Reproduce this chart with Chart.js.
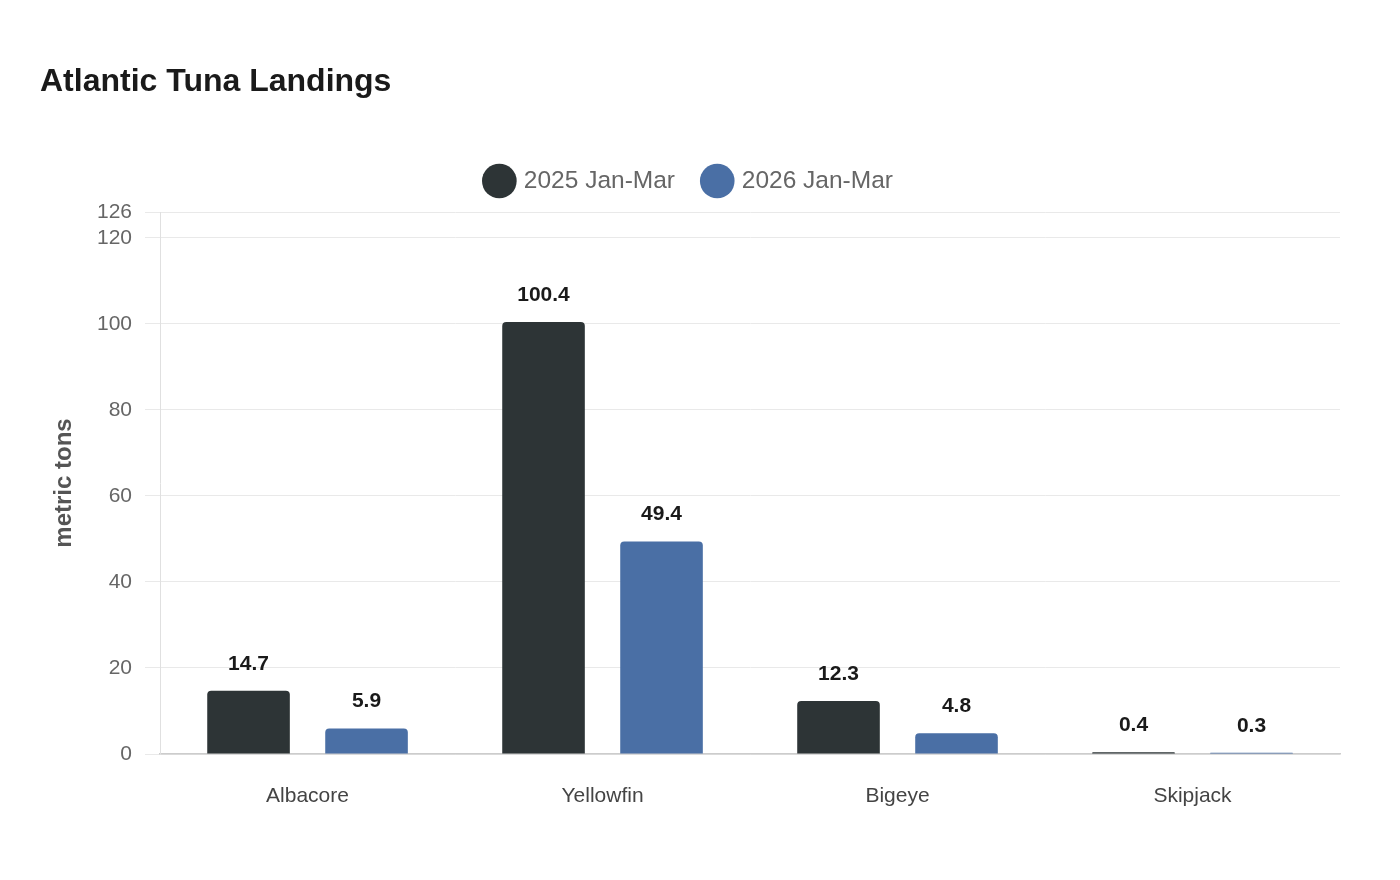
<!DOCTYPE html>
<html>
<head>
<meta charset="utf-8">
<script src="https://cdn.jsdelivr.net/npm/chart.js@4/dist/chart.umd.min.js"></script>
<style>
html,body{margin:0;padding:0;background:#fff;}
#wrap{width:1400px;height:880px;}
</style>
</head>
<body>
<div id="wrap"><canvas id="c" width="1400" height="880"></canvas></div>
<script>
const categories = ["Albacore", "Yellowfin", "Bigeye", "Skipjack"];
const series2025 = [14.7, 100.4, 12.3, 0.4];
const series2026 = [5.9, 49.4, 4.8, 0.3];
const seriesNames = ["2025 Jan-Mar", "2026 Jan-Mar"];
const yMax = 126;
const yStep = 20;

const FONT = "'Liberation Sans', Arial, Helvetica, sans-serif";

const valueLabels = {
  id: 'valueLabels',
  afterDatasetsDraw(chart) {
    const ctx = chart.ctx;
    ctx.save();
    ctx.font = "bold 21px " + FONT;
    ctx.fillStyle = "#1a1a1a";
    ctx.textAlign = "center";
    ctx.textBaseline = "middle";
    chart.data.datasets.forEach((ds, i) => {
      const meta = chart.getDatasetMeta(i);
      meta.data.forEach((bar, j) => {
        ctx.fillText(ds.data[j].toFixed(1), bar.x, bar.y - 27);
      });
    });
    ctx.restore();
  }
};

const legendSpacing = {
  id: 'legendSpacing',
  afterInit(chart) {
    const lg = chart.legend;
    if (!lg) return;
    const fit = lg.fit;
    lg.fit = function() { fit.call(this); this.height += 8.75; };
  }
};

new Chart(document.getElementById('c'), {
  type: 'bar',
  data: {
    labels: categories,
    datasets: [
      { label: seriesNames[0], data: series2025, backgroundColor: '#2d3436', borderWidth: 0,
        borderRadius: {topLeft: 4, topRight: 4}, borderSkipped: 'bottom', categoryPercentage: 0.8, barPercentage: 0.7 },
      { label: seriesNames[1], data: series2026, backgroundColor: '#4a6fa5', borderWidth: 0,
        borderRadius: {topLeft: 4, topRight: 4}, borderSkipped: 'bottom', categoryPercentage: 0.8, barPercentage: 0.7 }
    ]
  },
  options: {
    responsive: false,
    animation: false,
    layout: { padding: { left: 40, right: 60, top: 48, bottom: 41 } },
    plugins: {
      title: {
        display: true, text: 'Atlantic Tuna Landings', align: 'start',
        color: '#1a1a1a', font: { family: FONT, size: 32, weight: 'bold' },
        padding: { top: 15, bottom: 37.35 }
      },
      legend: {
        display: true, position: 'top',
        labels: {
          usePointStyle: true, pointStyle: 'circle',
          color: '#666', font: { family: FONT, size: 24.5 }, padding: 30
        }
      },
      tooltip: { enabled: false }
    },
    scales: {
      x: {
        grid: { display: false, drawTicks: false },
        border: { color: '#cccccc', width: 1.5 },
        ticks: { color: '#444', font: { family: FONT, size: 21 }, padding: 29.9 }
      },
      y: {
        min: 0, max: yMax,
        grid: { color: '#e9e9e9', drawTicks: true, tickLength: 15, tickColor: '#e9e9e9' },
        border: { color: '#e0e0e0', display: true },
        ticks: { stepSize: yStep, color: '#666', font: { family: FONT, size: 21 }, padding: 13 },
        title: { display: true, text: 'metric tons', color: '#555', font: { family: FONT, size: 24, weight: 'bold' }, padding: { top: 10.2, bottom: 5 } }
      }
    }
  },
  plugins: [valueLabels, legendSpacing]
});
</script>
</body>
</html>
